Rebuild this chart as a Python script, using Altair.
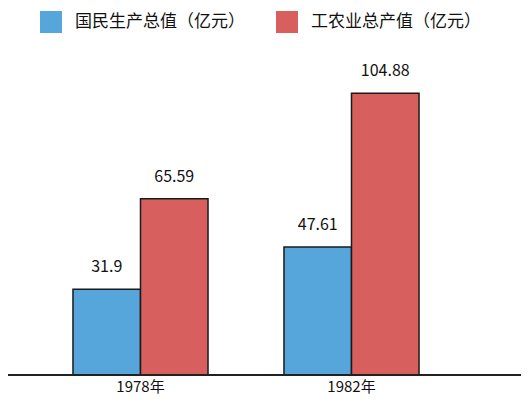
import altair as alt
import pandas as pd

years = ["1978年", "1982年"]
series = ["国民生产总值（亿元）", "工农业总产值（亿元）"]
gnp = [31.9, 47.61]
output = [65.59, 104.88]
colors = ["#56a6db", "#d7605e"]

rows = []
for i, y in enumerate(years):
    rows.append({"year": y, "series": series[0], "value": gnp[i]})
    rows.append({"year": y, "series": series[1], "value": output[i]})
df = pd.DataFrame(rows)

FONT = "Noto Sans CJK SC"
W, H = 422, 309

x = alt.X("year:N", sort=years, title=None,
          scale=alt.Scale(paddingInner=0.36, paddingOuter=0.18),
          axis=alt.Axis(domain=False, ticks=False, labelAngle=0, labelFontSize=15,
                        labelFont=FONT, labelColor="#111111", labelPadding=4))
xo = alt.XOffset("series:N", sort=series)
y = alt.Y("value:Q", scale=alt.Scale(domain=[0, 115], nice=False), axis=None)

bars = alt.Chart(df).mark_bar(stroke="#1a1a1a", strokeWidth=1.5).encode(
    x=x, xOffset=xo, y=y,
    color=alt.Color("series:N", sort=series,
                    scale=alt.Scale(domain=series, range=colors),
                    legend=alt.Legend(title=None, orient="none", direction="horizontal",
                                      legendX=5, legendY=-55, symbolType="square",
                                      symbolSize=484, symbolStrokeWidth=0,
                                      labelFontSize=17, labelFont=FONT, labelColor="#111111",
                                      labelOffset=13, columnPadding=31, labelLimit=300)),
)

labels = alt.Chart(df).mark_text(baseline="bottom", dy=-14, fontSize=16, font=FONT,
                                 color="#111111").encode(
    x=x, xOffset=xo, y=y, text=alt.Text("value:Q", format="")
)

axis_line = alt.Chart(df).mark_rule(color="#222222", strokeWidth=1.5).encode(
    x=alt.value(-27), x2=alt.value(486), y=alt.value(H)
)

chart = alt.layer(bars, labels, axis_line).properties(
    width=W, height=H,
    autosize=alt.AutoSizeParams(type="none"),
    padding={"left": 27, "top": 58, "right": 64, "bottom": 20},
).configure_view(stroke=None)

chart.save("out.html", embed_options={"renderer": "svg", "actions": False})
